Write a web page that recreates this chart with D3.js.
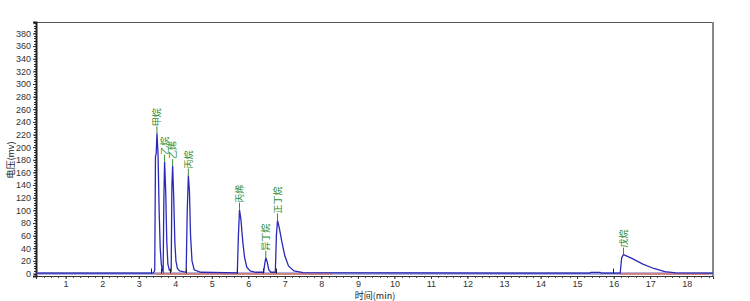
<!DOCTYPE html>
<html><head><meta charset="utf-8">
<script src="https://cdn.jsdelivr.net/npm/d3@7/dist/d3.min.js"></script>
<style>body{margin:0;background:#fff;}svg{display:block;}</style>
</head><body>
<svg id="c" width="750" height="301"></svg>
<script>
// ---- data ----
const traceTime = [0.19,3.40,3.44,3.46,3.48,3.50,3.53,3.56,3.59,3.62,3.65,3.67,3.69,3.71,3.74,3.77,3.80,3.84,3.89,3.91,3.93,3.96,3.99,4.02,4.06,4.12,4.30,4.33,4.36,4.39,4.42,4.46,4.52,4.70,5.70,5.73,5.76,5.80,5.85,5.90,5.96,6.05,6.20,6.42,6.45,6.48,6.52,6.56,6.62,6.74,6.77,6.80,6.85,6.92,7.00,7.10,7.25,7.50,15.34,15.38,15.63,15.67,16.18,16.22,16.27,16.50,16.80,17.10,17.40,17.70,18.72];
const traceMv   = [0.5,0.5,5,185,190,222,190,100,40,15,5,3,120,177,130,50,15,5,4,140,170,120,50,20,8,4,2,100,155,130,60,20,6,2,1,60,101,85,50,25,10,4,2,2,15,25,18,6,2,2,60,84,72,50,28,12,4,1.5,0.5,1.8,1.8,0.5,0.5,25,30,24,15,8,3,1,0.5];
const peakNames   = ["甲烷","乙烷","乙烯","丙烷","丙烯","异丁烷","正丁烷","戊烷"];
const peakTimes   = [3.50,3.71,3.93,4.36,5.76,6.48,6.80,16.27];
const peakHeights = [222,177,170,155,101,25,84,30];
const startMarks  = [3.33,3.62,3.86,4.29,5.70,6.41,6.76,15.97];
const baseSegments = [[3.45,8.30],[16.18,18.62]];
const yTicks = [0,20,40,60,80,100,120,140,160,180,200,220,240,260,280,300,320,340,360,380];
const xTicks = [1,2,3,4,5,6,7,8,9,10,11,12,13,14,15,16,17,18];

// ---- layout ----
const L=36,T=22,R=713,B=276;
const svg=d3.select("#c");
const x=d3.scaleLinear().domain([0.19,18.72]).range([L,R]);
const y=d3.scaleLinear().domain([-3.9,398.1]).range([B,T]);
const font="Liberation Sans, Arial, sans-serif";
const cjk="'Noto Sans CJK SC', sans-serif";

// frame
svg.append("line").attr("x1",L).attr("x2",R).attr("y1",T+0.5).attr("y2",T+0.5).attr("stroke","#555").attr("stroke-width",1);
svg.append("line").attr("x1",R).attr("x2",R).attr("y1",T).attr("y2",B).attr("stroke","#888").attr("stroke-width",2);

// minor ticks
const yMinor=d3.range(0,397,4);
svg.append("g").selectAll("line").data(yMinor).join("line")
  .attr("x1",L-2).attr("x2",L).attr("y1",d=>Math.round(y(d))+0.5).attr("y2",d=>Math.round(y(d))+0.5)
  .attr("stroke","#333").attr("stroke-width",1);
const xMinor=d3.range(0.2,18.72,0.2);
svg.append("g").selectAll("line").data(xMinor).join("line")
  .attr("x1",d=>Math.round(x(d))+0.5).attr("x2",d=>Math.round(x(d))+0.5).attr("y1",B).attr("y2",B+2)
  .attr("stroke","#555").attr("stroke-width",1);

// axes
const yAxis=d3.axisLeft(y).tickValues(yTicks).tickSize(3).tickPadding(2);
const gy=svg.append("g").attr("transform",`translate(${L},0)`).call(yAxis);
gy.select(".domain").attr("stroke","#222").attr("stroke-width",2);
gy.selectAll("text").attr("font-family",font).attr("font-size",9).attr("fill","#333");
gy.selectAll(".tick line").attr("stroke","#333");

const xAxis=d3.axisBottom(x).tickValues(xTicks).tickSize(3).tickPadding(2);
const gx=svg.append("g").attr("transform",`translate(0,${B})`).call(xAxis);
gx.select(".domain").attr("stroke","#333").attr("stroke-width",1);
gx.selectAll("text").attr("font-family",font).attr("font-size",9).attr("fill","#333");
gx.selectAll(".tick line").attr("stroke","#333");

// axis titles
svg.append("text").attr("x",375).attr("y",299).attr("text-anchor","middle")
  .attr("font-family",cjk).attr("font-size",9).attr("fill","#222").text("时间(min)");
svg.append("text").attr("transform","translate(14,160) rotate(-90)").attr("text-anchor","middle")
  .attr("font-family",cjk).attr("font-size",9).attr("fill","#222").text("电压(mv)");

// baseline band
svg.append("line").attr("x1",L+1).attr("x2",R-1).attr("y1",y(0)).attr("y2",y(0))
  .attr("stroke","#9a9ad0").attr("stroke-width",2.5);
// integration baselines
svg.append("g").selectAll("line").data(baseSegments).join("line")
  .attr("x1",d=>x(d[0])).attr("x2",d=>x(d[1])).attr("y1",y(0)+0.5).attr("y2",y(0)+0.5)
  .attr("stroke","#e07a6a").attr("stroke-width",1.5);

// trace
const pts=traceTime.map((t,i)=>[t,traceMv[i]]);
svg.append("path").datum(pts)
  .attr("d",d3.line().x(d=>x(d[0])).y(d=>y(d[1])))
  .attr("fill","none").attr("stroke","#2a2ab8").attr("stroke-width",1.3);

// start markers
svg.append("g").selectAll("line").data(startMarks).join("line")
  .attr("x1",d=>Math.round(x(d))+0.5).attr("x2",d=>Math.round(x(d))+0.5)
  .attr("y1",y(0)).attr("y2",y(0)-5).attr("stroke","#222").attr("stroke-width",1);

// peak labels
const pk=svg.append("g");
peakNames.forEach((n,i)=>{
  const px=x(peakTimes[i]), py=y(peakHeights[i]);
  pk.append("line").attr("x1",px).attr("x2",px).attr("y1",py).attr("y2",py-7)
    .attr("stroke","#3a8a3a").attr("stroke-width",1);
  pk.append("text").attr("transform",`translate(${px+3.5},${py-7}) rotate(-90)`)
    .attr("font-family",cjk).attr("font-size",9).attr("fill","#2e8b2e").text(n);
});
</script>
</body></html>
